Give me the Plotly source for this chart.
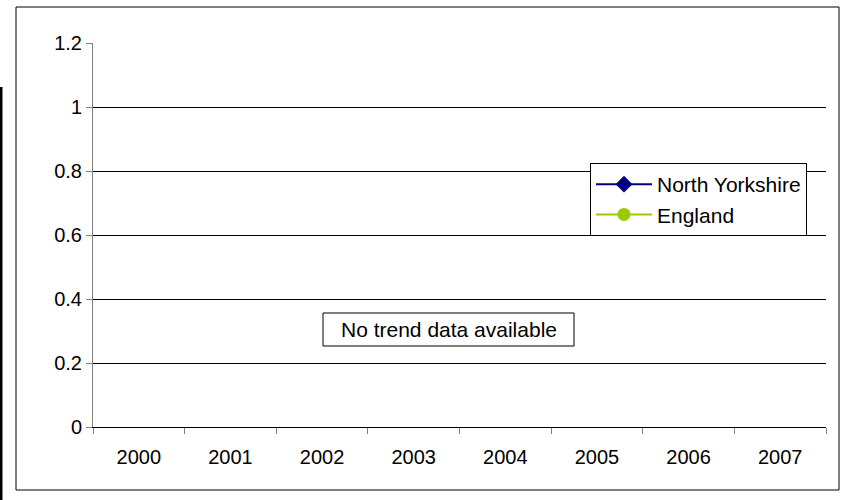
import plotly.graph_objects as go

years = ["2000", "2001", "2002", "2003", "2004", "2005", "2006", "2007"]
north_yorkshire = [None] * 8
england = [None] * 8
y_ticks = [0, 0.2, 0.4, 0.6, 0.8, 1, 1.2]
y_labels = ["0", "0.2", "0.4", "0.6", "0.8", "1", "1.2"]
note_text = "No trend data available"

FONT = "Liberation Sans, Arial, sans-serif"

fig = go.Figure()
fig.add_trace(go.Scatter(x=years, y=north_yorkshire, name="North Yorkshire",
                         mode="lines+markers",
                         line=dict(color="#000080", width=2),
                         marker=dict(symbol="diamond", size=13, color="#000080")))
fig.add_trace(go.Scatter(x=years, y=england, name="England",
                         mode="lines+markers",
                         line=dict(color="#99CC00", width=2),
                         marker=dict(symbol="circle", size=13, color="#99CC00")))

W, H = 847, 500
L, R, T, B = 93, 21, 43, 73
pw, ph = W - L - R, H - T - B

def px(x):
    return (x - L) / pw

def py(y):
    return (H - B - y) / ph

shapes = [
    # outer chart border
    dict(type="rect", xref="paper", yref="paper",
         x0=px(16), x1=px(839), y0=py(490), y1=py(7),
         line=dict(color="black", width=1), fillcolor="rgba(0,0,0,0)", layer="below"),
    # left edge bar
    dict(type="rect", xref="paper", yref="paper",
         x0=px(0), x1=px(2.5), y0=py(500), y1=py(87),
         line=dict(width=0), fillcolor="black", layer="below"),
    # note box
    dict(type="rect", xref="paper", yref="paper",
         x0=px(323), x1=px(574), y0=py(346), y1=py(313),
         line=dict(color="black", width=1), fillcolor="white", layer="above"),
]

fig.update_layout(
    width=W, height=H,
    margin=dict(l=L, r=R, t=T, b=B, pad=0),
    paper_bgcolor="white", plot_bgcolor="white",
    font=dict(family=FONT, size=20, color="black"),
    shapes=shapes,
    annotations=[dict(xref="paper", yref="paper", x=px(448.5), y=py(329.5),
                      text=note_text, showarrow=False,
                      font=dict(family=FONT, size=21, color="black"),
                      xanchor="center", yanchor="middle")],
    legend=dict(x=px(590), y=py(163), xanchor="left", yanchor="top",
                bgcolor="white", bordercolor="black", borderwidth=1,
                font=dict(family=FONT, size=21, color="black"),
                itemwidth=56, tracegroupgap=0),
    showlegend=True,
)

fig.update_xaxes(type="category", categoryorder="array", categoryarray=years,
                 range=[-0.5, 7.5], tickson="boundaries",
                 ticks="outside", ticklen=6, tickcolor="#808080", tickwidth=1,
                 showline=True, linecolor="black", linewidth=1,
                 showgrid=False, zeroline=False, ticklabelstandoff=12,
                 tickfont=dict(family=FONT, size=20, color="black"))
fig.update_yaxes(range=[0, 1.2], tickvals=y_ticks, ticktext=y_labels,
                 ticks="outside", ticklen=6, tickcolor="#808080", tickwidth=1,
                 showline=True, linecolor="#808080", linewidth=1,
                 showgrid=True, gridcolor="black", gridwidth=1,
                 zeroline=False,
                 tickfont=dict(family=FONT, size=20, color="black"))

fig.write_html("out.html",
               config={"displayModeBar": False},
               post_script="document.body.style.margin='0';document.body.style.overflow='hidden';")
